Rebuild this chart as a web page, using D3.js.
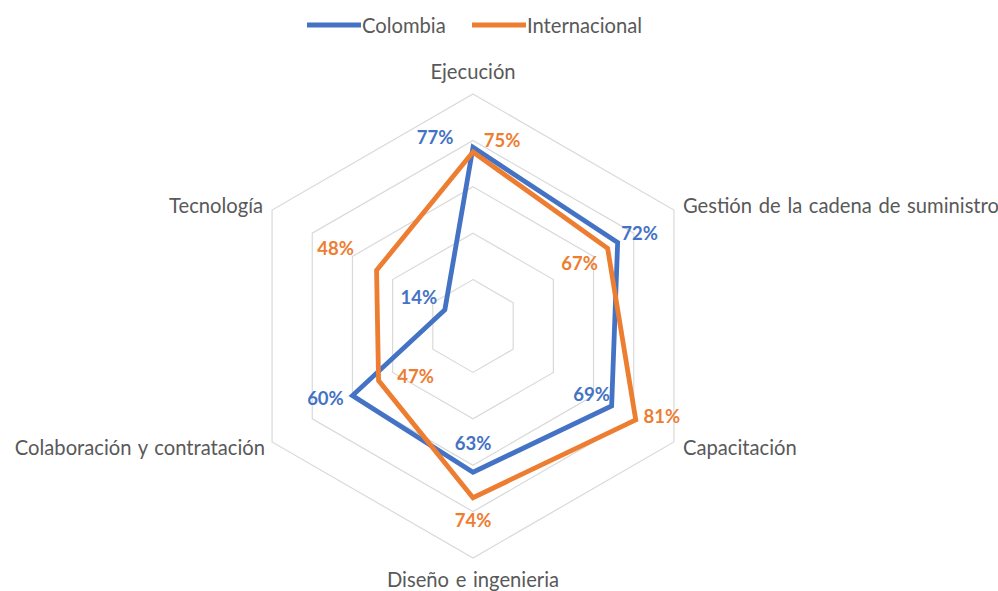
<!DOCTYPE html>
<html><head><meta charset="utf-8">
<script src="https://cdn.jsdelivr.net/npm/d3@7"></script>
<style>
html,body{margin:0;padding:0;background:#fff;}
svg{display:block;font-family:Lato,"Open Sans",sans-serif;}
</style></head>
<body>
<svg id="chart" width="998" height="591"></svg>
<script>
const categories = ["Ejecución","Gestión de la cadena de suministro","Capacitación","Diseño e ingenieria","Colaboración y contratación","Tecnología"];
const seriesNames = ["Colombia","Internacional"];
const colombia = [0.77,0.72,0.69,0.63,0.60,0.14];
const internacional = [0.75,0.67,0.81,0.74,0.47,0.48];
const gridTicks = [0.2,0.4,0.6,0.8,1.0];

const colors = ["#4472C4","#ED7D31"];
const svg = d3.select("#chart");
const cx = 473, cy = 326, R = 232;
const r = d3.scaleLinear().domain([0,1]).range([0,R]);
const ang = d3.scaleLinear().domain([0,categories.length]).range([0,2*Math.PI]);
const pt = (i,v)=>[cx + r(v)*Math.sin(ang(i)), cy - r(v)*Math.cos(ang(i))];

// grid
const g = svg.append("g");
gridTicks.forEach(t=>{
  const pts = categories.map((c,i)=>pt(i,t));
  g.append("path").attr("d", d3.line()(pts)+"Z")
   .attr("fill","none").attr("stroke","#D9D9D9").attr("stroke-width",1.2);
});

// category labels
const catFont = 20.2;
const catPos = [
  {dx:0,dy:-23,anchor:"middle"},
  {dx:9,dy:-5,anchor:"start"},
  {dx:9,dy:5,anchor:"start"},
  {dx:0,dy:21,anchor:"middle"},
  {dx:-7,dy:5,anchor:"end"},
  {dx:-9,dy:-5,anchor:"end"}
];
categories.forEach((c,i)=>{
  const [x,y] = pt(i,1);
  svg.append("text").attr("x",x+catPos[i].dx).attr("y",y+catPos[i].dy)
    .attr("text-anchor",catPos[i].anchor).attr("dominant-baseline","central")
    .attr("font-size",catFont).attr("word-spacing",1.5).attr("fill","#595959").text(c);
});

// series
const data = [colombia, internacional];
data.forEach((vals,s)=>{
  const pts = vals.map((v,i)=>pt(i,v));
  svg.append("path").attr("d", d3.line()(pts)+"Z")
    .attr("fill","none").attr("stroke",colors[s]).attr("stroke-width",4.8)
    .attr("stroke-linejoin","miter");
});

// data labels
const labelNudge = [
  [[-38,-10],[22,-9],[-20,-12],[0,-29],[-27,2],[-26,-13]],
  [[29,-12],[-28,15],[26,-4],[0,22],[37,-5],[-41,-22]]
];
data.forEach((vals,s)=>{
  vals.forEach((v,i)=>{
    const [x,y] = pt(i,v);
    svg.append("text").attr("x",x+labelNudge[s][i][0]).attr("y",y+labelNudge[s][i][1])
      .attr("text-anchor","middle").attr("dominant-baseline","central")
      .attr("font-size",18.5).attr("font-weight","bold").attr("fill",colors[s])
      .text(d3.format(".0%")(v));
  });
});

// legend
const legend = svg.append("g");
const legX = [307, 472];
seriesNames.forEach((n,s)=>{
  legend.append("line").attr("x1",legX[s]).attr("x2",legX[s]+54).attr("y1",25).attr("y2",25)
    .attr("stroke",colors[s]).attr("stroke-width",4.8);
  legend.append("text").attr("x",legX[s]+55).attr("y",25).attr("dominant-baseline","central")
    .attr("font-size",20.2).attr("fill","#595959").text(n);
});
</script>
</body></html>
